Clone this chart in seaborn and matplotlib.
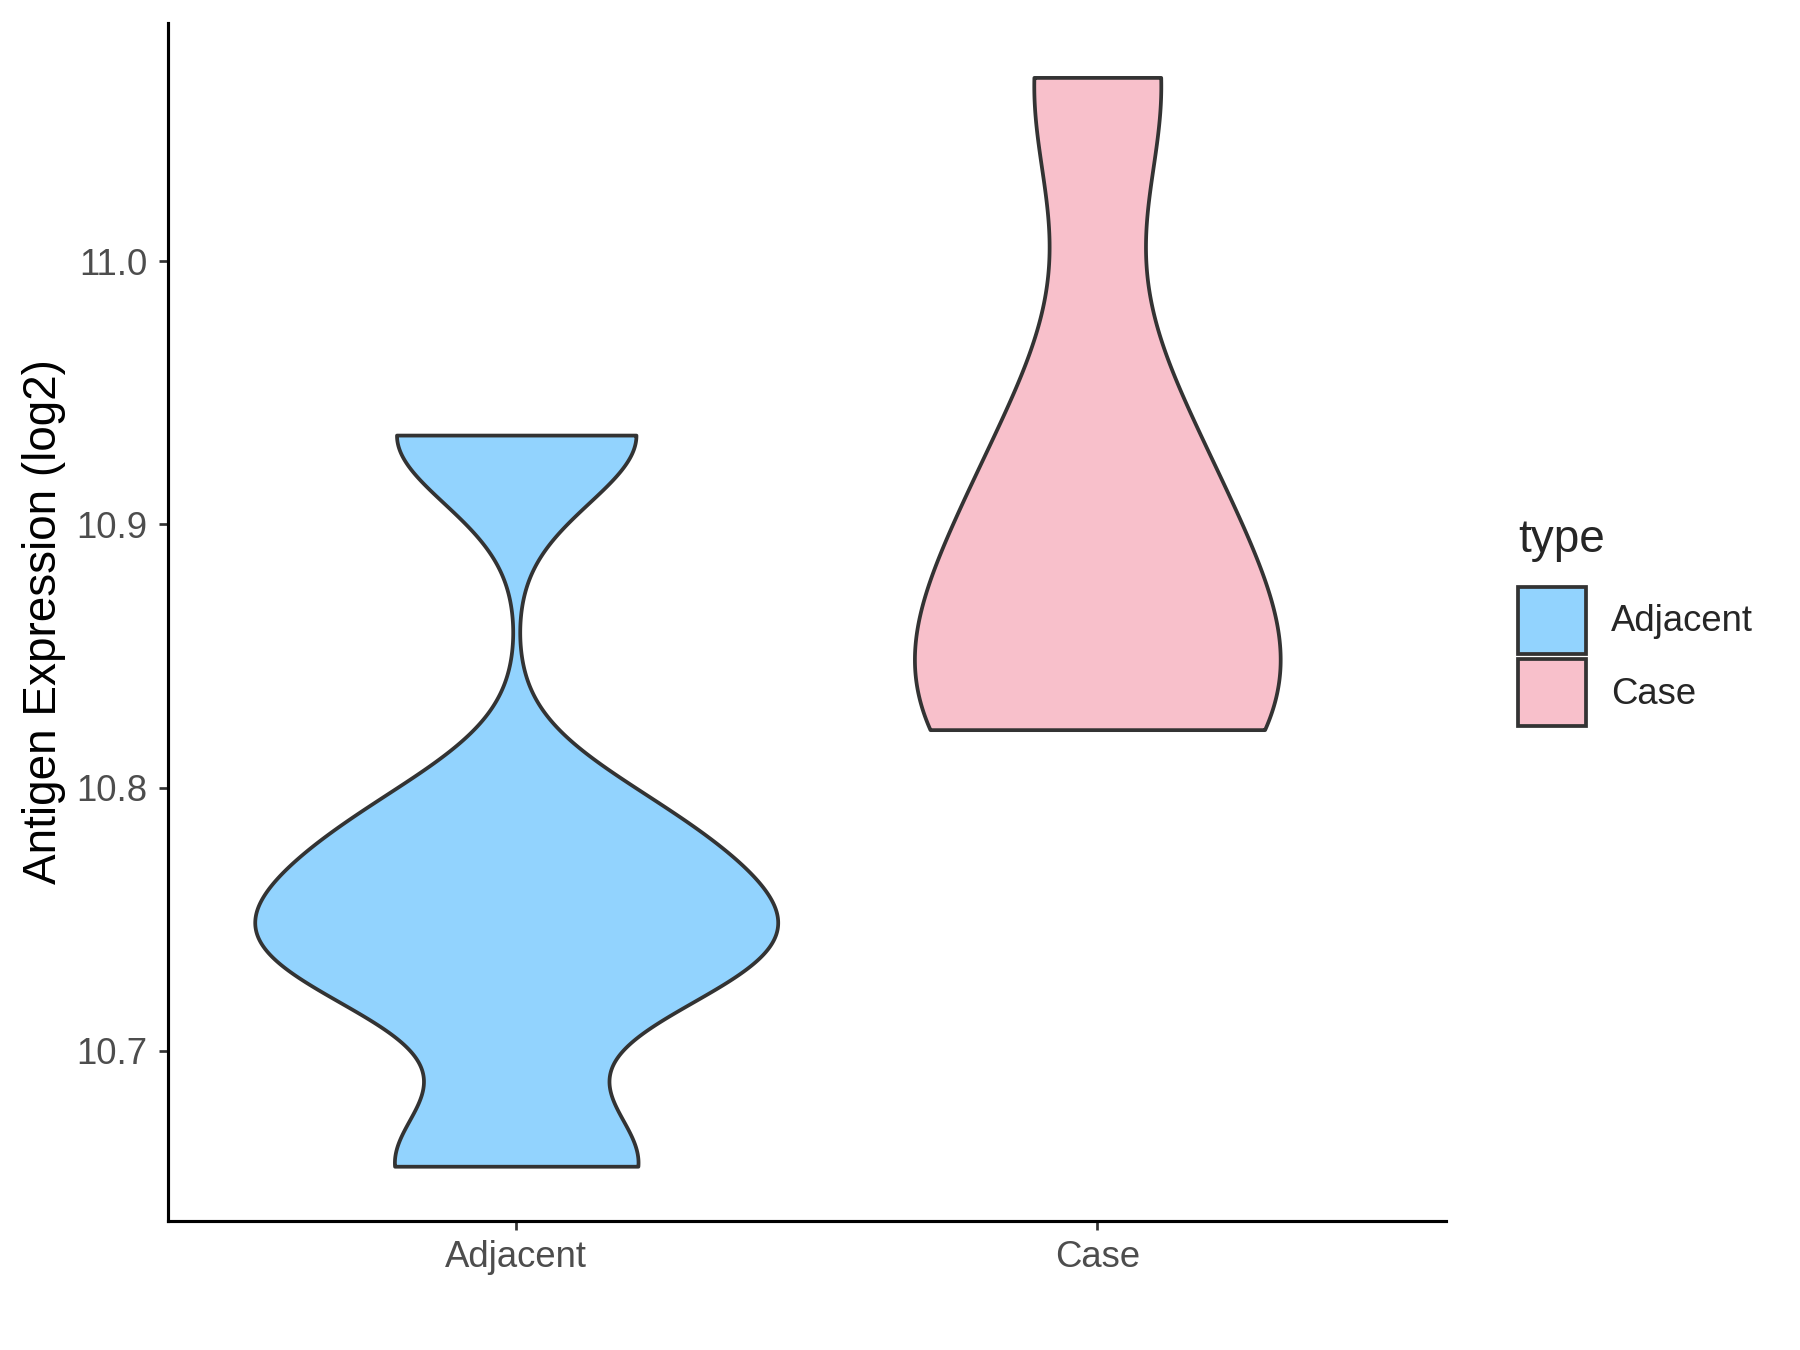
import numpy as np
import pandas as pd
import matplotlib
matplotlib.use("Agg")
import matplotlib.pyplot as plt
from matplotlib.patches import Patch
from matplotlib.ticker import MultipleLocator, FormatStrFormatter
import seaborn as sns

# values (log2 antigen expression)
categories = ["Adjacent", "Case"]
adjacent_values = [10.656, 10.731, 10.749, 10.784, 10.934]
case_values = [10.822, 10.828, 10.872, 10.930, 11.070]
palette = {"Adjacent": "#92D3FE", "Case": "#F8C0CB"}

df = pd.DataFrame({
    "type": ["Adjacent"] * len(adjacent_values) + ["Case"] * len(case_values),
    "value": adjacent_values + case_values,
})


def nrd0(kde):
    # R's default bandwidth (bw.nrd0), returned as a factor of the sample sd
    x = kde.dataset[0]
    sd = np.std(x, ddof=1)
    q75, q25 = np.percentile(x, [75, 25])
    h = 0.9 * min(sd, (q75 - q25) / 1.34) * len(x) ** -0.2
    return h / sd


sns.set_style("ticks")
plt.rcParams["font.family"] = ["Liberation Sans", "DejaVu Sans"]

fig = plt.figure(figsize=(12, 9), dpi=150)
ax = fig.add_axes([0.0931, 0.0958, 0.7102, 0.8872])

sns.violinplot(
    data=df, x="type", y="value", hue="type", order=categories,
    hue_order=categories, palette=palette, dodge=False,
    cut=0, inner=None, width=0.9, density_norm="area", common_norm=True,
    bw_method=nrd0, gridsize=512, linecolor="#333333", linewidth=1.8,
    saturation=1, legend=False, ax=ax,
)

# ggplot-like expansion of 5% around the data range
lo, hi = df["value"].min(), df["value"].max()
pad = 0.05 * (hi - lo)
ax.set_ylim(lo - pad, hi + pad)
ax.set_xlim(-0.6, 1.6)
ax.yaxis.set_major_locator(MultipleLocator(0.1))
ax.yaxis.set_major_formatter(FormatStrFormatter("%.1f"))

ax.set_xlabel("")
ax.set_ylabel("Antigen Expression (log2)", fontsize=22, color="black", labelpad=5)
ax.tick_params(axis="both", labelsize=17.5, labelcolor="#4D4D4D", color="#333333",
               length=4.5, width=1.3, pad=5)

for side in ["top", "right"]:
    ax.spines[side].set_visible(False)
for side in ["left", "bottom"]:
    ax.spines[side].set_color("black")
    ax.spines[side].set_linewidth(1.5)

handles = [Patch(facecolor=palette[c], edgecolor="#333333", linewidth=1.8, label=c)
           for c in categories]
leg = ax.legend(
    handles=handles, loc="center left", bbox_to_anchor=(1.045, 0.50),
    borderaxespad=0, frameon=False, title="type", fontsize=17.5,
    title_fontsize=22, handlelength=1.86, handleheight=2.44, labelspacing=0.15,
    handletextpad=0.7, alignment="left",
)
# more room between the legend title and the keys
leg._legend_box.sep = 12

fig.savefig("out.png", dpi=150, facecolor="white")
